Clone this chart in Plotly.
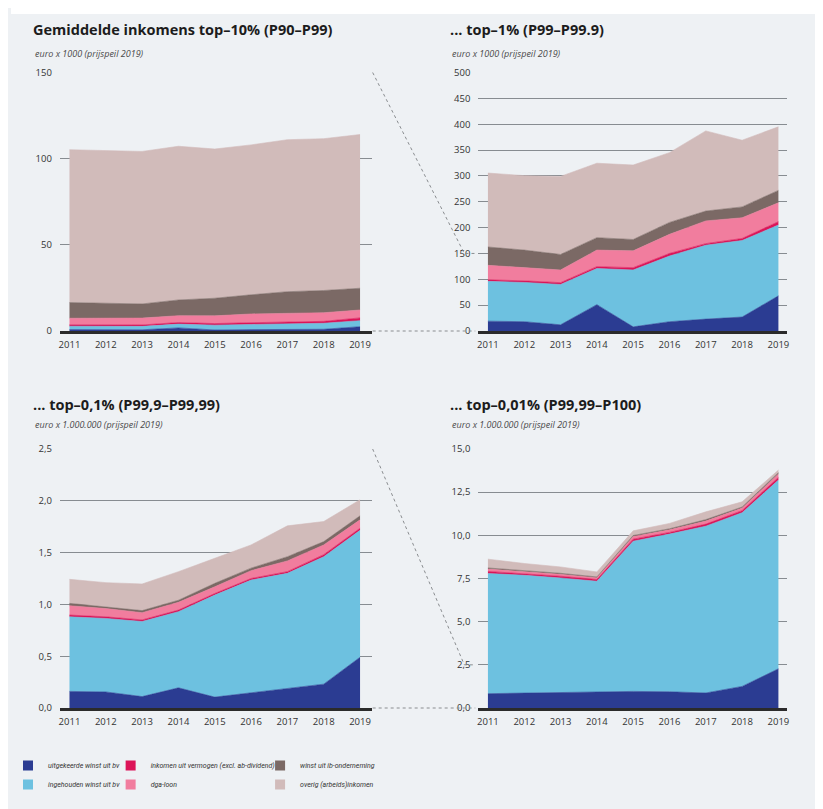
import plotly.graph_objects as go

# ---------------- data ----------------
years = [2011, 2012, 2013, 2014, 2015, 2016, 2017, 2018, 2019]

series_names = [
    "uitgekeerde winst uit bv",
    "ingehouden winst uit bv",
    "inkomen uit vermogen (excl. ab-dividend)",
    "dga-loon",
    "winst uit ib-onderneming",
    "overig (arbeids)inkomen",
]
series_colors = ["#2b3c92", "#6dc1e0", "#dc1458", "#f17d9e", "#7b6965", "#d1bbba"]
series_legend = ["legend", "legend", "legend2", "legend2", "legend3", "legend3"]

# top-10% (P90-P99), euro x 1000
t10_uitgekeerd = [0.8, 0.8, 0.7, 1.8, 0.6, 0.8, 0.9, 1.0, 2.5]
t10_ingehouden = [2.0, 2.0, 2.0, 2.2, 2.8, 3.0, 3.3, 3.5, 3.5]
t10_vermogen = [0.8, 0.8, 0.8, 0.9, 0.9, 1.0, 1.0, 1.1, 1.6]
t10_dga = [3.8, 3.8, 4.0, 4.0, 4.5, 5.1, 5.0, 5.0, 4.6]
t10_ib = [9.1, 8.6, 8.2, 9.1, 10.2, 11.1, 12.6, 12.9, 12.6]
t10_overig = [88.7, 88.7, 88.5, 89.2, 86.6, 87.0, 88.2, 88.1, 89.2]

# top-1% (P99-P99,9), euro x 1000
t1_uitgekeerd = [19, 18, 12, 51, 8, 18, 23, 27, 68]
t1_ingehouden = [77, 76, 78, 70, 110, 127, 143, 148, 137]
t1_vermogen = [3, 3, 3.5, 3.5, 4.5, 5, 3, 4, 6.5]
t1_dga = [28, 26, 24.5, 32, 32.5, 37, 44, 40, 36.5]
t1_ib = [35.5, 33.5, 30, 24, 22, 23, 19, 21, 24]
t1_overig = [143, 144, 151, 144, 144, 135, 155, 129, 123]

# top-0,1% (P99,9-P99,99), euro x 1.000.000
t01_uitgekeerd = [0.16, 0.155, 0.11, 0.195, 0.105, 0.145, 0.185, 0.23, 0.49]
t01_ingehouden = [0.72, 0.71, 0.725, 0.735, 0.985, 1.09, 1.115, 1.23, 1.225]
t01_vermogen = [0.017, 0.015, 0.015, 0.015, 0.015, 0.015, 0.016, 0.02, 0.02]
t01_dga = [0.09, 0.08, 0.07, 0.075, 0.065, 0.076, 0.104, 0.094, 0.081]
t01_ib = [0.023, 0.017, 0.02, 0.02, 0.033, 0.024, 0.04, 0.032, 0.039]
t01_overig = [0.232, 0.233, 0.257, 0.276, 0.242, 0.224, 0.298, 0.194, 0.155]

# top-0,01% (P99,99-P100), euro x 1.000.000
t001_uitgekeerd = [0.83, 0.87, 0.9, 0.94, 0.96, 0.94, 0.87, 1.25, 2.27]
t001_ingehouden = [6.96, 6.82, 6.63, 6.4, 8.7, 9.13, 9.66, 10.06, 10.93]
t001_vermogen = [0.12, 0.1, 0.1, 0.1, 0.12, 0.1, 0.12, 0.12, 0.15]
t001_dga = [0.14, 0.12, 0.12, 0.1, 0.15, 0.15, 0.18, 0.15, 0.2]
t001_ib = [0.06, 0.05, 0.05, 0.05, 0.06, 0.06, 0.08, 0.06, 0.08]
t001_overig = [0.51, 0.41, 0.37, 0.29, 0.27, 0.31, 0.45, 0.30, 0.15]

titles = [
    "Gemiddelde inkomens top–10% (P90–P99)",
    "... top–1% (P99–P99.9)",
    "... top–0,1% (P99,9–P99,99)",
    "... top–0,01% (P99,99–P100)",
]
subtitles = [
    "euro x 1000 (prijspeil 2019)",
    "euro x 1000 (prijspeil 2019)",
    "euro x 1.000.000 (prijspeil 2019)",
    "euro x 1.000.000 (prijspeil 2019)",
]
y_ticks = [
    [0, 50, 100, 150],
    [0, 50, 100, 150, 200, 250, 300, 350, 400, 450, 500],
    [0, 0.5, 1.0, 1.5, 2.0, 2.5],
    [0, 2.5, 5.0, 7.5, 10.0, 12.5, 15.0],
]

panel_series = [
    [t10_uitgekeerd, t10_ingehouden, t10_vermogen, t10_dga, t10_ib, t10_overig],
    [t1_uitgekeerd, t1_ingehouden, t1_vermogen, t1_dga, t1_ib, t1_overig],
    [t01_uitgekeerd, t01_ingehouden, t01_vermogen, t01_dga, t01_ib, t01_overig],
    [t001_uitgekeerd, t001_ingehouden, t001_vermogen, t001_dga, t001_ib, t001_overig],
]

# ---------------- layout helpers (page pixels -> paper) ----------------
# the page body has an 8px margin, so the figure is 8px smaller than the window
OFF = 8
W, H = 823 - OFF, 809 - OFF


def fx(p):
    return (p - OFF) / W


def fy(p):
    return 1 - (p - OFF) / H


# plot areas in page pixels: (x0, x1, ytop, ybottom)
areas = [
    (57, 370, 72.5, 331),
    (477, 787, 72.5, 331),
    (57, 370, 449, 708),
    (477, 787, 449, 708),
]
x_ranges = [
    [2010.734, 2019.32],
    [2010.734, 2019.24],
    [2010.734, 2019.32],
    [2010.734, 2019.24],
]
tick_formats = ["d", "d", ".1f", ".1f"]

FONT = "Open Sans, Roboto, sans-serif"

fig = go.Figure()

for i, series in enumerate(panel_series):
    sfx = "" if i == 0 else str(i + 1)
    for j, vals in enumerate(series):
        fig.add_trace(
            go.Scatter(
                x=years,
                y=vals,
                xaxis="x" + sfx,
                yaxis="y" + sfx,
                stackgroup="stack" + str(i),
                mode="lines",
                line=dict(width=0.6, color=series_colors[j]),
                fillcolor=series_colors[j],
                name=series_names[j],
                showlegend=False,
                hoverinfo="skip",
            )
        )

# legend entries (three columns = three legends)
for j, name in enumerate(series_names):
    fig.add_trace(
        go.Scatter(
            x=[None],
            y=[None],
            mode="markers",
            marker=dict(symbol="square", size=10, color=series_colors[j]),
            name="<i>" + name + "</i>",
            legend=series_legend[j],
            showlegend=True,
            hoverinfo="skip",
        )
    )

layout = dict(
    width=W,
    height=H,
    margin=dict(l=0, r=0, t=0, b=0),
    paper_bgcolor="#eef1f4",
    plot_bgcolor="rgba(0,0,0,0)",
    separators=",.",
    font=dict(family=FONT, color="#2e2e2e", size=9),
    showlegend=True,
)

for i in range(4):
    sfx = "" if i == 0 else str(i + 1)
    x0, x1, yt, yb = areas[i]
    layout["xaxis" + sfx] = dict(
        domain=[fx(x0), fx(x1)],
        range=x_ranges[i],
        anchor="y" + sfx,
        tickvals=years,
        ticktext=[str(y) for y in years],
        showgrid=False,
        zeroline=False,
        showline=True,
        linecolor="#2b2b2b",
        linewidth=2.8,
        ticks="outside",
        ticklen=3,
        tickcolor="rgba(0,0,0,0)",
        tickfont=dict(size=9.5, color="#333333", family=FONT),
        fixedrange=True,
        automargin=False,
    )
    layout["yaxis" + sfx] = dict(
        domain=[fy(yb), fy(yt)],
        range=[y_ticks[i][0], y_ticks[i][-1]],
        anchor="x" + sfx,
        tickvals=y_ticks[i],
        tickformat=tick_formats[i],
        showgrid=True,
        gridcolor="#878c91",
        gridwidth=1,
        zeroline=False,
        showline=False,
        ticks="outside",
        ticklen=5,
        tickcolor="rgba(0,0,0,0)",
        tickfont=dict(size=9.5, color="#333333", family=FONT),
        fixedrange=True,
        automargin=False,
    )

legend_common = dict(
    orientation="v",
    traceorder="normal",
    xanchor="left",
    yanchor="top",
    bgcolor="rgba(0,0,0,0)",
    borderwidth=0,
    tracegroupgap=0,
    itemclick=False,
    itemdoubleclick=False,
    font=dict(size=7, color="#333333", family="Roboto, Open Sans, sans-serif"),
)
layout["legend"] = dict(legend_common, x=fx(5), y=fy(751))
layout["legend2"] = dict(legend_common, x=fx(108), y=fy(751))
layout["legend3"] = dict(legend_common, x=fx(258), y=fy(751))

annotations = []
title_pos = [(28, 30), (447, 30), (28, 404), (447, 404)]
sub_pos = [(30, 53), (449, 53), (30, 424), (449, 424)]
for i in range(4):
    annotations.append(
        dict(
            text="<b>" + titles[i] + "</b>",
            x=fx(title_pos[i][0]),
            y=fy(title_pos[i][1]),
            xref="paper",
            yref="paper",
            xanchor="left",
            yanchor="middle",
            showarrow=False,
            font=dict(size=14.5, color="#1c1c1c", family=FONT),
        )
    )
    annotations.append(
        dict(
            text="<i>" + subtitles[i] + "</i>",
            x=fx(sub_pos[i][0]),
            y=fy(sub_pos[i][1]),
            xref="paper",
            yref="paper",
            xanchor="left",
            yanchor="middle",
            showarrow=False,
            font=dict(size=9, color="#4a4a4a", family=FONT),
        )
    )
layout["annotations"] = annotations


# dashed connectors between left and right panels
def conn_path(left, right, frac):
    lx1 = left[1]
    ltop = left[2]
    lbot = left[3]
    rx0 = right[0]
    rtop, rbot = right[2], right[3]
    ty = rbot - (rbot - rtop) * frac
    bend_x = rx0 - 14
    return (
        f"M {fx(lx1 + 1)},{fy(ltop)} L {fx(bend_x)},{fy(ty)} L {fx(rx0 - 3)},{fy(ty)}",
        f"M {fx(lx1 + 1)},{fy(lbot)} L {fx(rx0 - 3)},{fy(lbot)}",
    )


shapes = [
    dict(type="rect", xref="paper", yref="paper", x0=0, x1=1, y0=fy(14), y1=1,
         fillcolor="#ffffff", line=dict(width=0), layer="below"),
    dict(type="rect", xref="paper", yref="paper", x0=fx(818), x1=1, y0=0, y1=1,
         fillcolor="#ffffff", line=dict(width=0), layer="below"),
]
for (a, b, frac) in [(areas[0], areas[1], 150 / 500), (areas[2], areas[3], 2.5 / 15)]:
    p1, p2 = conn_path(a, b, frac)
    for p in (p1, p2):
        shapes.append(dict(type="path", path=p, xref="paper", yref="paper",
                           line=dict(color="#8a8d90", width=1, dash="3px,3px")))
layout["shapes"] = shapes

fig.update_layout(**layout)
fig.write_html("out.html")
